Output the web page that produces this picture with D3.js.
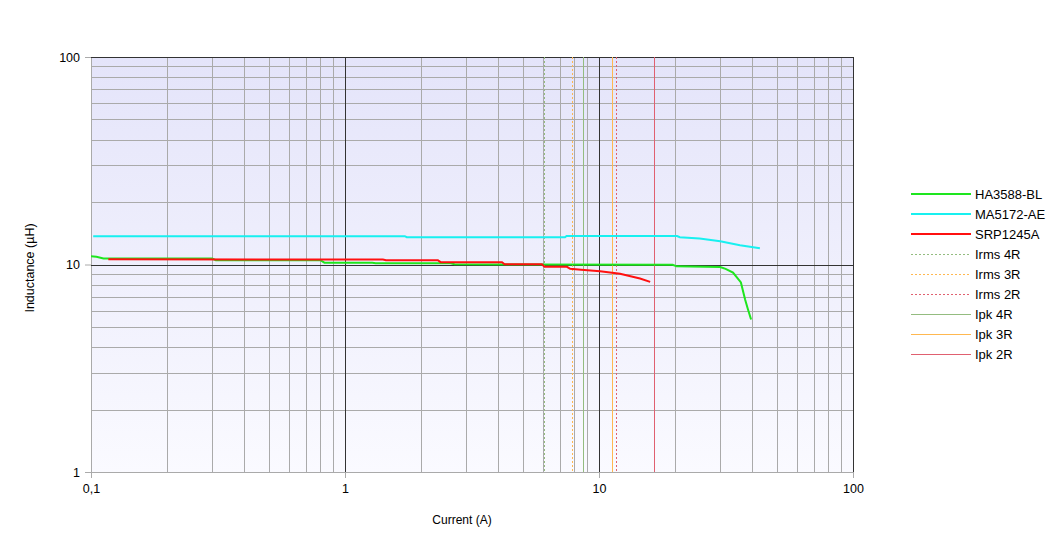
<!DOCTYPE html>
<html>
<head>
<meta charset="utf-8">
<script src="https://cdn.jsdelivr.net/npm/d3@7/dist/d3.min.js"></script>
<style>
  body { margin: 0; background: #fff; }
  svg { display: block; font-family: "Liberation Sans", Arial, sans-serif; }
</style>
</head>
<body>
<svg id="chart" width="1057" height="547"></svg>
<script>
// ---- Data ----
const xTicks = [0.1, 1, 10, 100];
const xTickLabels = ["0,1", "1", "10", "100"];
const yTicks = [1, 10, 100];
const yTickLabels = ["1", "10", "100"];

const haCurrent = [0.1, 0.105, 0.112, 0.3, 0.31, 0.8, 0.83, 1.28, 1.32, 2.6, 2.7, 5, 19.5, 20.2, 30, 31.5, 33.7, 36.2, 37.6, 38.6, 39.7];
const haL       = [10.96, 10.9, 10.69, 10.69, 10.49, 10.49, 10.2, 10.2, 10.15, 10.15, 10.03, 9.99, 9.96, 9.8, 9.72, 9.53, 9.15, 8.19, 6.78, 6.07, 5.43];

const maCurrent = [0.102, 1.72, 1.75, 7.35, 7.45, 20.3, 20.8, 24.9, 30, 35.9, 43];
const maL       = [13.7, 13.7, 13.54, 13.54, 13.72, 13.72, 13.54, 13.35, 12.95, 12.39, 11.98];

const srpCurrent = [0.117, 1.41, 1.45, 2.32, 2.38, 4.15, 4.25, 5.96, 6.1, 7.48, 7.7, 8.5, 10.1, 12.1, 14.5, 15.9];
const srpL       = [10.6, 10.57, 10.49, 10.49, 10.26, 10.26, 10.03, 10.03, 9.75, 9.75, 9.54, 9.44, 9.28, 9.02, 8.56, 8.25];

const limitNames   = ["Irms 4R", "Irms 3R", "Irms 2R", "Ipk 4R", "Ipk 3R", "Ipk 2R"];
const limitValues  = [6.1, 7.85, 11.7, 8.65, 11.3, 16.5];

const curveNames = ["HA3588-BL", "MA5172-AE", "SRP1245A"];

// ---- Styles ----
const curveColors = ["#1ee61e", "#18f0f0", "#ff1010"];
const limitColors = ["#94bc80", "#ffb850", "#e06070", "#94bc80", "#ffb850", "#e06070"];
const limitDashed = [true, true, true, false, false, false];

// ---- Layout ----
const svg = d3.select("#chart");
const pLeft = 91, pRight = 853, pTop = 57, pBottom = 472;

const x = d3.scaleLog().domain([0.1, 100]).range([pLeft, pRight]);
const y = d3.scaleLog().domain([1, 100]).range([pBottom, pTop]);

// background gradient
const defs = svg.append("defs");
const grad = defs.append("linearGradient").attr("id", "bg").attr("x1", 0).attr("y1", 0).attr("x2", 0).attr("y2", 1);
grad.append("stop").attr("offset", "0%").attr("stop-color", "#e4e4fa");
grad.append("stop").attr("offset", "100%").attr("stop-color", "#fafaff");
svg.append("rect").attr("x", pLeft).attr("y", pTop).attr("width", pRight - pLeft).attr("height", pBottom - pTop).attr("fill", "url(#bg)");

// minor grid
const minorVals = [];
[0.1, 1, 10].forEach(d => { for (let k = 2; k <= 9; k++) minorVals.push(d * k); });
const minorY = [];
[1, 10].forEach(d => { for (let k = 2; k <= 9; k++) minorY.push(d * k); });

const grid = svg.append("g").attr("shape-rendering", "crispEdges");
grid.selectAll(".vx").data(minorVals.concat([0.1])).enter().append("line")
  .attr("x1", d => Math.round(x(d)) + 0.5).attr("x2", d => Math.round(x(d)) + 0.5)
  .attr("y1", pTop).attr("y2", pBottom).attr("stroke", "#aaaaaa");
grid.selectAll(".hy").data(minorY.concat([1])).enter().append("line")
  .attr("y1", d => Math.round(y(d)) + 0.5).attr("y2", d => Math.round(y(d)) + 0.5)
  .attr("x1", pLeft).attr("x2", pRight).attr("stroke", "#aaaaaa");
// major grid
grid.selectAll(".mx").data([1, 10, 100]).enter().append("line")
  .attr("x1", d => Math.round(x(d)) + 0.5).attr("x2", d => Math.round(x(d)) + 0.5)
  .attr("y1", pTop).attr("y2", pBottom).attr("stroke", "#333333");
grid.selectAll(".my").data([10, 100]).enter().append("line")
  .attr("y1", d => Math.round(y(d)) + 0.5).attr("y2", d => Math.round(y(d)) + 0.5)
  .attr("x1", pLeft).attr("x2", pRight).attr("stroke", "#333333");

// axes
const xAxis = d3.axisBottom(x).tickValues(xTicks).tickFormat((d, i) => xTickLabels[i]).tickSize(6).tickPadding(6);
const gx = svg.append("g").attr("transform", `translate(0,${pBottom})`).call(xAxis);
gx.select(".domain").remove();
gx.selectAll(".tick line").attr("stroke", "#aaaaaa");
gx.selectAll(".tick text").attr("font-size", 12.5).attr("fill", "#000").attr("font-family", "Liberation Sans, Arial, sans-serif");

const yAxis = d3.axisLeft(y).tickValues(yTicks).tickFormat((d, i) => yTickLabels[i]).tickSize(6).tickPadding(5);
const gy = svg.append("g").attr("transform", `translate(${pLeft},0)`).call(yAxis);
gy.select(".domain").remove();
gy.selectAll(".tick line").attr("stroke", "#aaaaaa");
gy.selectAll(".tick text").attr("font-size", 12.5).attr("fill", "#000").attr("font-family", "Liberation Sans, Arial, sans-serif");

// axis titles
svg.append("text").attr("x", 462).attr("y", 524).attr("text-anchor", "middle").attr("font-size", 12).text("Current (A)");
svg.append("text").attr("transform", "translate(34,268) rotate(-90)").attr("text-anchor", "middle").attr("font-size", 12.5).text("Inductance (µH)");

// limit lines
const plot = svg.append("g");
limitValues.forEach((v, i) => {
  plot.append("line")
    .attr("x1", Math.round(x(v)) + 0.5).attr("x2", Math.round(x(v)) + 0.5)
    .attr("y1", pTop).attr("y2", pBottom)
    .attr("stroke", limitColors[i]).attr("stroke-width", 1)
    .attr("stroke-dasharray", limitDashed[i] ? "2,2" : null);
});

// curves
const line = d3.line().x(d => x(d[0])).y(d => y(d[1]));
const series = [
  d3.zip(haCurrent, haL),
  d3.zip(maCurrent, maL),
  d3.zip(srpCurrent, srpL)
];
series.forEach((s, i) => {
  plot.append("path").datum(s).attr("d", line)
    .attr("fill", "none").attr("stroke", curveColors[i]).attr("stroke-width", 2);
});

// legend
const legendNames = curveNames.concat(limitNames);
const legendColors = curveColors.concat(limitColors);
const legendDash = [false, false, false].concat(limitDashed);
const legendWidth = [2, 2, 2, 1, 1, 1, 1, 1, 1];
const lg = svg.append("g");
legendNames.forEach((n, i) => {
  const ly = 194 + i * 20;
  lg.append("line").attr("x1", 911).attr("x2", 971)
    .attr("y1", ly + (legendWidth[i] === 1 ? 0.5 : 0)).attr("y2", ly + (legendWidth[i] === 1 ? 0.5 : 0))
    .attr("stroke", legendColors[i]).attr("stroke-width", legendWidth[i])
    .attr("stroke-dasharray", legendDash[i] ? "2,2" : null);
  lg.append("text").attr("x", 975).attr("y", ly + 5).attr("font-size", 13).attr("fill", "#000").text(n);
});
</script>
</body>
</html>
